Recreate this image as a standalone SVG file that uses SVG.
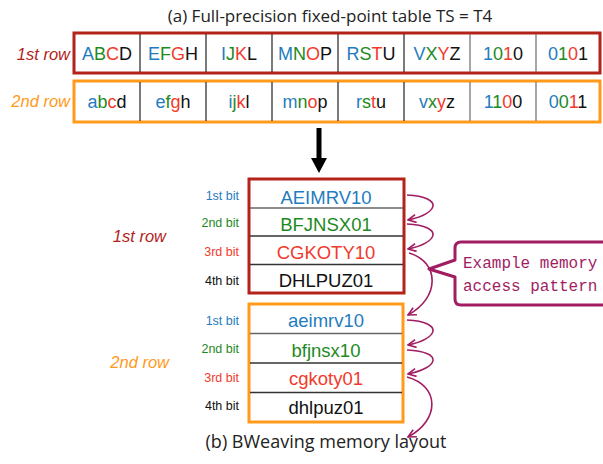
<svg xmlns="http://www.w3.org/2000/svg" width="603" height="464" viewBox="0 0 603 464">
<defs>
<style>
.cap{font-family:"Open Sans","DejaVu Sans",sans-serif;font-size:17px;fill:#222;text-anchor:middle}
.cap2{font-family:"Open Sans","DejaVu Sans",sans-serif;font-size:18px;fill:#222;text-anchor:middle}
.cell{font-family:"Liberation Sans",Arial,sans-serif;font-size:18px;text-anchor:middle}
.bt{font-family:"Liberation Sans",Arial,sans-serif;font-size:18.5px;text-anchor:middle}
.bl{font-family:"Liberation Sans",Arial,sans-serif;font-size:12.5px;text-anchor:end}
.rl{font-family:"Liberation Sans",Arial,sans-serif;font-size:16.5px;font-style:italic;text-anchor:end}
.b{fill:#1f7cc0}.g{fill:#1e8a1e}.r{fill:#f23a2c}.k{fill:#111}
.dr{fill:#b3231a}.or{fill:#ff9a1a}
.div{stroke:#333;stroke-width:1.3}
.curve{fill:none;stroke:#a01d62;stroke-width:1.6;marker-end:url(#ah)}
.note{font-family:"Liberation Mono","DejaVu Sans Mono",monospace;font-size:16px;fill:#a01d62}
</style>
<marker id="ah" viewBox="0 0 10 10" refX="9" refY="5" markerWidth="10" markerHeight="10" markerUnits="userSpaceOnUse" orient="auto">
<path d="M1,1 L9,5 L1,9" fill="none" stroke="#a01d62" stroke-width="1.6"/>
</marker>
</defs>
<rect width="603" height="464" fill="#fff"/>

<text class="cap" x="330" y="22">(a) Full-precision fixed-point table TS = T4</text>

<g id="row1">
<text class="rl dr" x="70" y="60">1st row</text>
<rect x="74" y="33" width="526" height="40" fill="none" stroke="#b3231a" stroke-width="3"/>
<g class="div">
<line x1="140" y1="34" x2="140" y2="72"/><line x1="206" y1="34" x2="206" y2="72"/><line x1="272" y1="34" x2="272" y2="72"/><line x1="338" y1="34" x2="338" y2="72"/><line x1="404" y1="34" x2="404" y2="72"/><line x1="470" y1="34" x2="470" y2="72" stroke="#777"/><line x1="536" y1="34" x2="536" y2="72" stroke="#777"/>
</g>
<text class="cell" x="107" y="60"><tspan class="b">A</tspan><tspan class="g">B</tspan><tspan class="r">C</tspan><tspan class="k">D</tspan></text>
<text class="cell" x="173" y="60"><tspan class="b">E</tspan><tspan class="g">F</tspan><tspan class="r">G</tspan><tspan class="k">H</tspan></text>
<text class="cell" x="239" y="60"><tspan class="b">I</tspan><tspan class="g">J</tspan><tspan class="r">K</tspan><tspan class="k">L</tspan></text>
<text class="cell" x="305" y="60"><tspan class="b">M</tspan><tspan class="g">N</tspan><tspan class="r">O</tspan><tspan class="k">P</tspan></text>
<text class="cell" x="371" y="60"><tspan class="b">R</tspan><tspan class="g">S</tspan><tspan class="r">T</tspan><tspan class="k">U</tspan></text>
<text class="cell" x="437" y="60"><tspan class="b">V</tspan><tspan class="g">X</tspan><tspan class="r">Y</tspan><tspan class="k">Z</tspan></text>
<text class="cell" x="503" y="60"><tspan class="b">1</tspan><tspan class="g">0</tspan><tspan class="r">1</tspan><tspan class="k">0</tspan></text>
<text class="cell" x="568" y="60"><tspan class="b">0</tspan><tspan class="g">1</tspan><tspan class="r">0</tspan><tspan class="k">1</tspan></text>
</g>

<g id="row2">
<text class="rl or" x="70" y="107">2nd row</text>
<rect x="74" y="81" width="526" height="41" fill="none" stroke="#ff9a1a" stroke-width="3"/>
<g class="div">
<line x1="140" y1="82" x2="140" y2="121"/><line x1="206" y1="82" x2="206" y2="121"/><line x1="272" y1="82" x2="272" y2="121"/><line x1="338" y1="82" x2="338" y2="121"/><line x1="404" y1="82" x2="404" y2="121"/><line x1="470" y1="82" x2="470" y2="121" stroke="#777"/><line x1="536" y1="82" x2="536" y2="121" stroke="#777"/>
</g>
<text class="cell" x="107" y="108"><tspan class="b">a</tspan><tspan class="g">b</tspan><tspan class="r">c</tspan><tspan class="k">d</tspan></text>
<text class="cell" x="173" y="108"><tspan class="b">e</tspan><tspan class="g">f</tspan><tspan class="r">g</tspan><tspan class="k">h</tspan></text>
<text class="cell" x="239" y="108"><tspan class="b">i</tspan><tspan class="g">j</tspan><tspan class="r">k</tspan><tspan class="k">l</tspan></text>
<text class="cell" x="305" y="108"><tspan class="b">m</tspan><tspan class="g">n</tspan><tspan class="r">o</tspan><tspan class="k">p</tspan></text>
<text class="cell" x="371" y="108"><tspan class="b">r</tspan><tspan class="g">s</tspan><tspan class="r">t</tspan><tspan class="k">u</tspan></text>
<text class="cell" x="437" y="108"><tspan class="b">v</tspan><tspan class="g">x</tspan><tspan class="r">y</tspan><tspan class="k">z</tspan></text>
<text class="cell" x="503" y="108"><tspan class="b">1</tspan><tspan class="g">1</tspan><tspan class="r">0</tspan><tspan class="k">0</tspan></text>
<text class="cell" x="568" y="108"><tspan class="b">0</tspan><tspan class="g">0</tspan><tspan class="r">1</tspan><tspan class="k">1</tspan></text>
</g>

<g id="down-arrow">
<rect x="316.5" y="128" width="5" height="31" fill="#000"/>
<path d="M311,158 L327,158 L319,173 Z" fill="#000"/>
</g>

<g id="bits1">
<text class="rl dr" x="166" y="242">1st row</text>
<text class="bl b" x="239" y="200">1st bit</text>
<text class="bl g" x="239" y="227">2nd bit</text>
<text class="bl r" x="239" y="256">3rd bit</text>
<text class="bl k" x="239" y="285">4th bit</text>
<rect x="249" y="179" width="155" height="114" fill="none" stroke="#b3231a" stroke-width="3"/>
<g class="div"><line x1="250" y1="208" x2="403" y2="208" stroke="#666"/><line x1="250" y1="236" x2="403" y2="236"/><line x1="250" y1="264.5" x2="403" y2="264.5"/></g>
<text class="bt b" x="326" y="204">AEIMRV10</text>
<text class="bt g" x="326" y="231">BFJNSX01</text>
<text class="bt r" x="326" y="259">CGKOTY10</text>
<text class="bt k" x="326" y="287">DHLPUZ01</text>
</g>

<g id="bits2">
<text class="rl or" x="169" y="368">2nd row</text>
<text class="bl b" x="239" y="325">1st bit</text>
<text class="bl g" x="239" y="353">2nd bit</text>
<text class="bl r" x="239" y="382">3rd bit</text>
<text class="bl k" x="239" y="410">4th bit</text>
<rect x="249" y="304" width="154" height="118" fill="none" stroke="#ff9a1a" stroke-width="3"/>
<g class="div"><line x1="250" y1="333.5" x2="402" y2="333.5" stroke="#666"/><line x1="250" y1="363" x2="402" y2="363"/><line x1="250" y1="392.5" x2="402" y2="392.5"/></g>
<text class="bt b" x="326" y="327">aeimrv10</text>
<text class="bt g" x="326" y="357">bfjnsx10</text>
<text class="bt r" x="326" y="385">cgkoty01</text>
<text class="bt k" x="326" y="414">dhlpuz01</text>
</g>

<text class="cap2" x="326" y="448">(b) BWeaving memory layout</text>

<g id="connectors">
<path class="curve" d="M407,195 C445,197 438,214 408,220"/>
<path class="curve" d="M407,224 C445,226 438,243 408,249"/>
<path class="curve" d="M409,253 C440,262 440,298 408,315"/>
<path class="curve" d="M407,320 C445,322 438,339 408,345"/>
<path class="curve" d="M407,350 C445,352 438,368 408,374"/>
<path class="curve" d="M407,377 C440,386 440,420 408,437"/>
</g>

<g id="callout">
<path d="M610,242 L461,242 Q455,242 455,248 L455,260 L429,269 L455,277 L455,299 Q455,305 461,305 L610,305" fill="#fff" stroke="#a01d62" stroke-width="3" stroke-linejoin="round"/>
<text class="note" x="463" y="268">Example memory</text>
<text class="note" x="463" y="291">access pattern</text>
</g>
</svg>
